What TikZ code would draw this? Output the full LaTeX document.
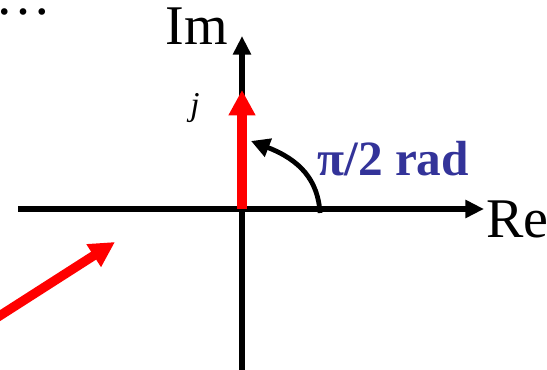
\documentclass[tikz,border=0pt]{standalone}
\usepackage{fontspec}
\setmainfont{Liberation Serif}
\usetikzlibrary{arrows.meta}
\definecolor{piblue}{RGB}{51,51,153}
\tikzset{
  axisline/.style={line width=3.8pt,-{Triangle[length=14pt,width=13pt]}},
  vecline/.style={line width=7pt,red,-{Triangle[length=19pt,width=19pt]}},
  anglearrow/.style={line width=3.6pt,-{Triangle[length=14pt,width=14pt]}},
  lbl/.style={font=\fontsize{42}{46}\selectfont, inner sep=0pt}
}
\begin{document}
\begin{tikzpicture}[x=0.75pt,y=-0.75pt]
\useasboundingbox (0,0) rectangle (547,370);
\coordinate (xs) at (18,209);
\coordinate (xe) at (484,209);
\coordinate (ys) at (242,372);
\coordinate (ye) at (242,36);
\coordinate (o) at (242,209);
\coordinate (jtip) at (242,90);
\coordinate (as) at (320,213);
\coordinate (ae) at (251,141);
\coordinate (vs) at (-10,322);
\coordinate (ve) at (115,242);
\draw[axisline] (xs) -- (xe);
\draw[axisline] (ys) -- (ye);
\draw[vecline] (o) -- (jtip);
\draw[anglearrow] (as) .. controls (318,180) and (300,160) .. (ae);
\draw[vecline] (vs) -- (ve);
\node[lbl, anchor=base west] (re) at (486,238) {Re};
\node[lbl, anchor=base] (im) at (197,45) {Im};
\node[font=\fontsize{25}{28}\selectfont\itshape, inner sep=0pt, anchor=base] (j) at (195,116) {j};
\node[font=\fontsize{37}{40}\selectfont\bfseries, text=piblue, inner sep=0pt, anchor=base west] (pi) at (317,176) {π/2 rad};
\node[lbl, anchor=base west, text height=5pt, text depth=0pt] (dots) at (-5,15) {…};
\end{tikzpicture}
\end{document}
